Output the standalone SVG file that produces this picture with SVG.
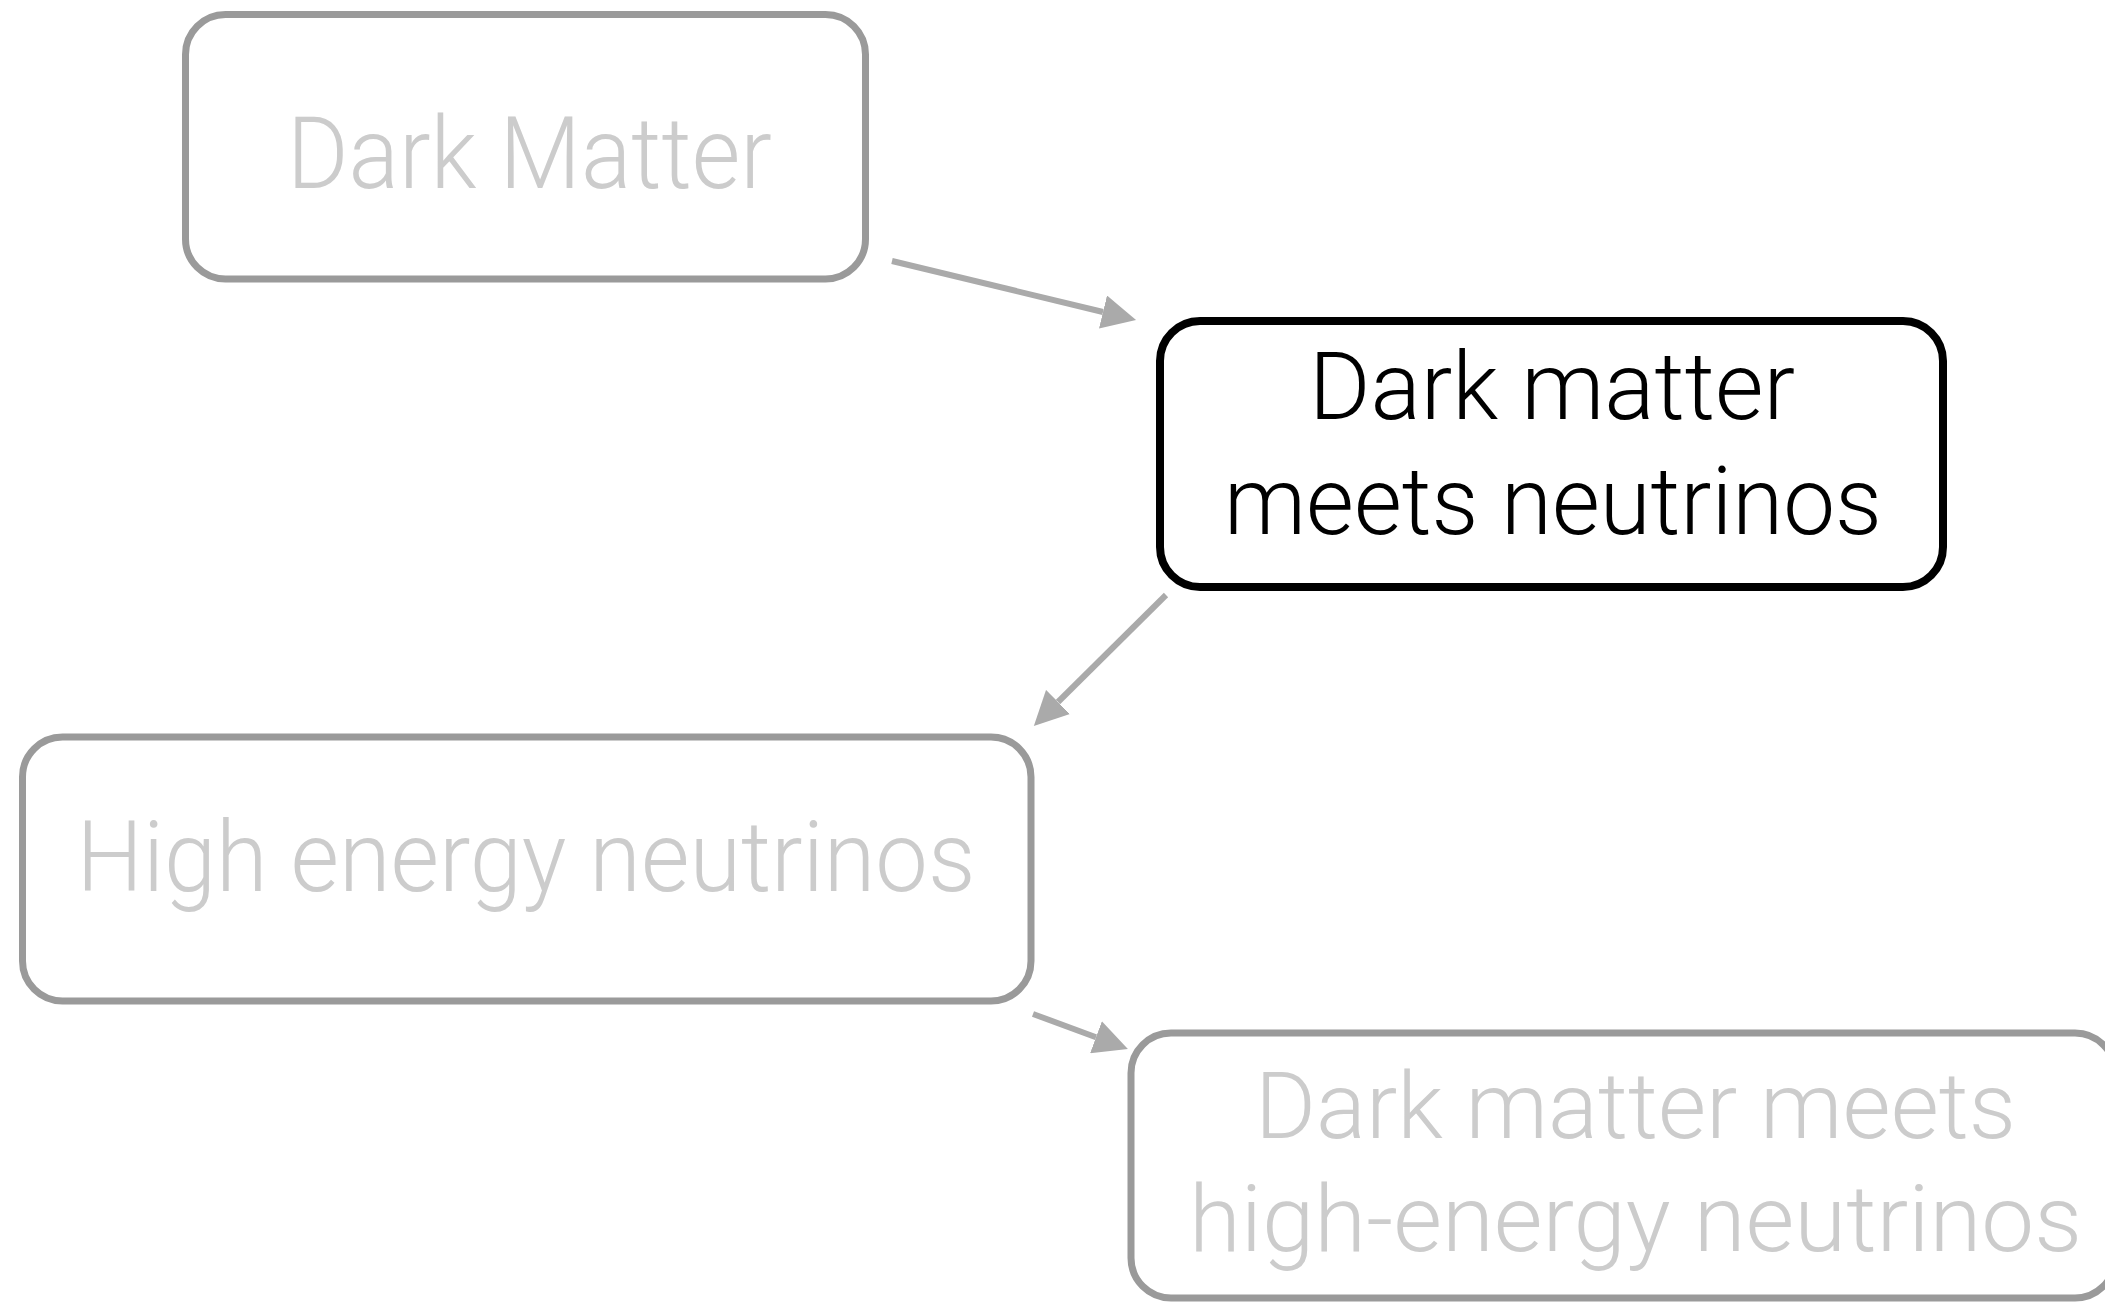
<svg xmlns="http://www.w3.org/2000/svg" width="2105" height="1302" viewBox="0 0 2105 1302">
  <style>
    .box { fill: #ffffff; stroke: #9a9a9a; stroke-width: 7; }
    .box.active { stroke: #000000; stroke-width: 8; }
    .label { font-family: Roboto, "Liberation Sans", Arial, sans-serif; font-weight: 300; fill: #cccccc; text-anchor: middle; }
    .label.active { fill: #000000; }
    .edge { fill: none; stroke: #aaaaaa; stroke-width: 6; stroke-linecap: butt; }
  </style>
  <defs>
    <marker id="arrowhead" viewBox="0 0 34 34" refX="0" refY="17" markerWidth="34" markerHeight="34" markerUnits="userSpaceOnUse" orient="auto">
      <path d="M0,0 L34,17 L0,34 Z" fill="#aaaaaa"/>
    </marker>
  </defs>
  <rect width="2105" height="1302" fill="#ffffff"/>

  <g id="connectors">
    <line class="edge" x1="892" y1="261" x2="1103" y2="312" marker-end="url(#arrowhead)"/>
    <line class="edge" x1="1166" y1="595" x2="1058" y2="702" marker-end="url(#arrowhead)"/>
    <line class="edge" x1="1033" y1="1014" x2="1096" y2="1037.2" marker-end="url(#arrowhead)"/>
  </g>

  <g id="dark-matter">
    <rect class="box" x="185.5" y="14.5" width="680" height="264.5" rx="40" ry="40"/>
    <text class="label" x="529.5" y="188" font-size="100" textLength="485" lengthAdjust="spacingAndGlyphs">Dark Matter</text>
  </g>

  <g id="dm-meets-neutrinos">
    <rect class="box active" x="1160" y="321" width="783" height="266" rx="40" ry="40"/>
    <text class="label active" x="1552" y="419" font-size="94" textLength="486" lengthAdjust="spacingAndGlyphs">Dark matter</text>
    <text class="label active" x="1553" y="534" font-size="94" textLength="658" lengthAdjust="spacingAndGlyphs">meets neutrinos</text>
  </g>

  <g id="high-energy-neutrinos">
    <rect class="box" x="22.5" y="737" width="1008.5" height="264" rx="40" ry="40"/>
    <text class="label" x="526" y="891" font-size="98" textLength="899" lengthAdjust="spacingAndGlyphs">High energy neutrinos</text>
  </g>

  <g id="dm-meets-he-neutrinos">
    <rect class="box" x="1131" y="1033" width="984" height="265" rx="40" ry="40"/>
    <text class="label" x="1635.5" y="1138" font-size="92" textLength="761" lengthAdjust="spacingAndGlyphs">Dark matter meets</text>
    <text class="label" x="1635.5" y="1251" font-size="92" textLength="893" lengthAdjust="spacingAndGlyphs">high-energy neutrinos</text>
  </g>
</svg>
